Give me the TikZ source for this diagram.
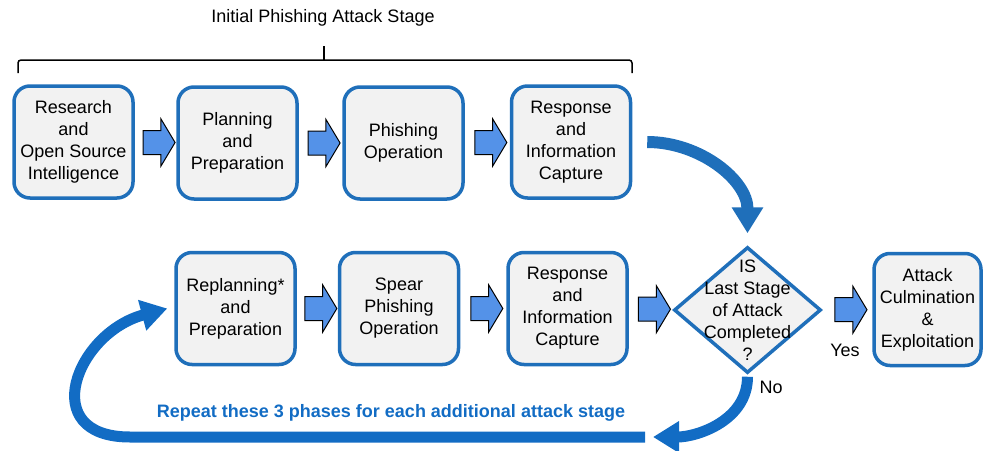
\documentclass[tikz,border=0pt]{standalone}
\usepackage{fontspec}
\setmainfont{Liberation Sans}
\usetikzlibrary{positioning,arrows.meta,shapes.geometric,shapes.arrows}
\definecolor{boxblue}{RGB}{31,111,186}
\definecolor{boxgray}{RGB}{242,242,242}
\definecolor{arrowblue}{RGB}{84,146,232}
\definecolor{loopblue}{RGB}{18,108,196}
\def\big{\fontsize{18}{22}\selectfont}

\begin{document}
\begin{tikzpicture}[x=1pt, y=-1pt, >={Triangle[width=30pt,length=26pt]}, phase/.style={draw=boxblue, line width=3.5pt, fill=boxgray, rounded corners=16pt, minimum width=119pt, minimum height=112pt, align=center, inner sep=1pt, font=\big}, decision/.style={diamond, draw=boxblue, line width=3.5pt, fill=boxgray, minimum width=147pt, minimum height=126pt, inner sep=0pt}, blockarrow/.style={single arrow, draw=black, line width=1pt, fill=arrowblue, text height=23pt, text depth=0pt, text width=0pt, minimum height=32pt, single arrow head extend=11.5pt, single arrow tip angle=118, inner sep=0pt}, loop/.style={draw=loopblue, line width=11pt}]
\useasboundingbox (0,0) rectangle (987,450);
\draw (73.5, 142)node[phase](0){Research\\and\\Open Source\\Intelligence};
\draw (237.5, 143)node[phase](1){Planning\\and\\Preparation};
\draw (403.5, 143)node[phase](2){Phishing\\Operation};
\draw (571.0, 142)node[phase](3){Response\\and\\Information\\Capture};
\draw (235.5, 308.5)node[phase](4){Replanning*\\and\\Preparation};
\draw (399.0, 308.5)node[phase](5){Spear\\Phishing\\Operation};
\draw (567.5, 308.5)node[phase](6){Response\\and\\Information\\Capture};
\draw (747.5, 310)node[decision, label={[font=\big, align=center]center:IS\\Last Stage\\of Attack\\Completed\\?}](7){};
\draw (927.5, 309.5)node[phase, minimum width=107pt](8){Attack\\Culmination\\\&\\Exploitation};
\coordinate (9) at (653, 437);
\coordinate (10) at (645, 437);
% stage bracket
\draw[line width=1.5pt, rounded corners=3pt] (18,73) -- (18,60) -- (632,60) -- (632,73);
\draw[line width=1.5pt] (324,60) -- (324,46);
\node[font=\big] at (323,18) {Initial Phishing Attack Stage};
\path (0) -- node[blockarrow]{} (1);
\path (1) -- node[blockarrow]{} (2);
\path (2) -- node[blockarrow]{} (3);
\path (4) -- node[blockarrow]{} (5);
\path (5) -- node[blockarrow]{} (6);
\path (6) -- node[blockarrow]{} (7);
\path (7) -- node[blockarrow](11){} (8);
\node[font=\big] at (845,350) {Yes};
\node[font=\big] at (771,387) {No};
\draw[->, loop, line width=12pt, draw=boxblue] ([xshift=15pt]3.east) to[out=0, in=90] ([yshift=12pt]7.north);
\draw[->, loop] ([yshift=-2pt]7.south) to[out=-90, in=0] (9);
\draw[->, loop] (10) -- (130,437) to[out=180, in=195, looseness=1.8] ([xshift=-7pt]4.west);
\node[font=\fontsize{18}{22}\selectfont\bfseries, text=loopblue] at (391,413) {Repeat these 3 phases for each additional attack stage};
\end{tikzpicture}
\end{document}
